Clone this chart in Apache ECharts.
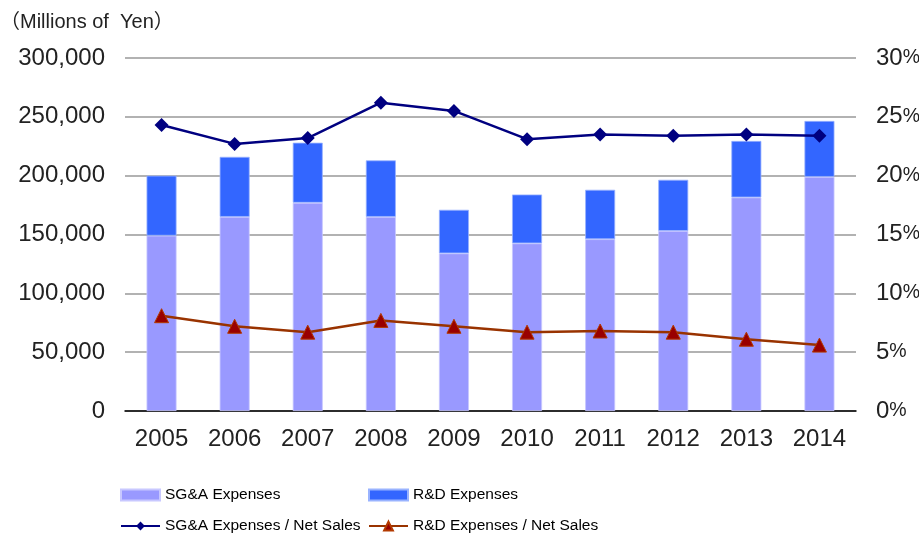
<!DOCTYPE html>
<html><head><meta charset="utf-8">
<script src="https://cdn.jsdelivr.net/npm/echarts@6/dist/echarts.min.js"></script>
<style>html,body{margin:0;padding:0;background:#fff}#c{width:919px;height:536px}</style>
</head><body><div id="c"></div>
<script>
const years = ['2005','2006','2007','2008','2009','2010','2011','2012','2013','2014'];
const sgaExpenses = [149000,165000,177000,165000,134000,142500,146000,153000,181500,199000];
const rdExpenses  = [51000,51000,51000,48000,37000,41500,42000,43500,48000,47500];
const sgaRatio = [24.3,22.7,23.2,26.2,25.5,23.1,23.5,23.4,23.5,23.4];
const rdRatio  = [8.1,7.2,6.7,7.7,7.2,6.7,6.8,6.7,6.1,5.6];
const leftTicks = [0,50000,100000,150000,200000,250000,300000];
const rightTicks = [0,5,10,15,20,25,30];

const FF = 'Liberation Sans, Arial, sans-serif';
const axisFont = {fontFamily:FF, fontSize:24, color:'#222'};
const legFont = {fontFamily:FF, fontSize:15.5, color:'#000'};
function leg(name, left, top, icon){
  const o = {data:[name], left:left, top:top, itemWidth:39, itemHeight:11, itemGap:0, padding:0,
    textStyle:Object.assign({padding:[0,0,0,0]},legFont), selectedMode:false};
  if (icon) o.icon = icon;
  return o;
}
const chart = echarts.init(document.getElementById('c'), null, {renderer:'canvas'});
chart.setOption({
  animation:false,
  title:{text:'（Millions of  Yen）', left:0, top:12, padding:0,
    textStyle:{fontFamily:'Liberation Sans, Noto Sans CJK JP, sans-serif', fontSize:20, fontWeight:'normal', color:'#222'}},
  grid:{left:125, right:63, top:58, bottom:125, outerBoundsMode:'none', containLabel:false},
  legend:[
    leg('SG&A Expenses',120,487,'rect'),
    leg('R&D Expenses',368,487,'rect'),
    leg('SG&A Expenses / Net Sales',120,518),
    leg('R&D Expenses / Net Sales',368,518)
  ],
  xAxis:{type:'category', data:years,
    axisLine:{lineStyle:{color:'#000', width:1.5}},
    axisTick:{inside:true, length:6, lineStyle:{color:'#333'}},
    axisLabel:Object.assign({margin:16},axisFont)},
  yAxis:[
    {type:'value', min:0, max:300000, interval:50000,
     axisLine:{show:false}, axisTick:{show:false},
     splitLine:{lineStyle:{color:'#999', width:1.5}},
     axisLabel:Object.assign({margin:20, formatter:v=>v.toLocaleString('en-US')},axisFont)},
    {type:'value', min:0, max:30, interval:5,
     axisLine:{show:false}, axisTick:{show:false}, splitLine:{show:false},
     axisLabel:Object.assign({margin:20, formatter:v=>'{n|'+v+'}{p|%}',
       rich:{n:{fontFamily:FF,fontSize:24,color:'#222',verticalAlign:'middle'},
             p:{fontFamily:FF,fontSize:19.5,color:'#222',verticalAlign:'middle',padding:[0,0,1,0]}}},axisFont)}
  ],
  series:[
    {name:'SG&A Expenses', type:'bar', stack:'e', data:sgaExpenses, barWidth:30,
     itemStyle:{color:'#9999ff', borderColor:'#c8c8ff', borderWidth:0.8}},
    {name:'R&D Expenses', type:'bar', stack:'e', data:rdExpenses, barWidth:30,
     itemStyle:{color:'#3366ff', borderColor:'#99b3ff', borderWidth:0.8}},
    {name:'SG&A Expenses / Net Sales', type:'line', yAxisIndex:1, data:sgaRatio,
     symbol:'diamond', symbolSize:14, lineStyle:{color:'#000080', width:2.5},
     itemStyle:{color:'#000080'}, z:5},
    {name:'R&D Expenses / Net Sales', type:'line', yAxisIndex:1, data:rdRatio,
     symbol:'triangle', symbolSize:14, lineStyle:{color:'#993300', width:2.5},
     itemStyle:{color:'#990000', borderColor:'#b33a00', borderWidth:1}, z:5}
  ]
});
</script></body></html>
